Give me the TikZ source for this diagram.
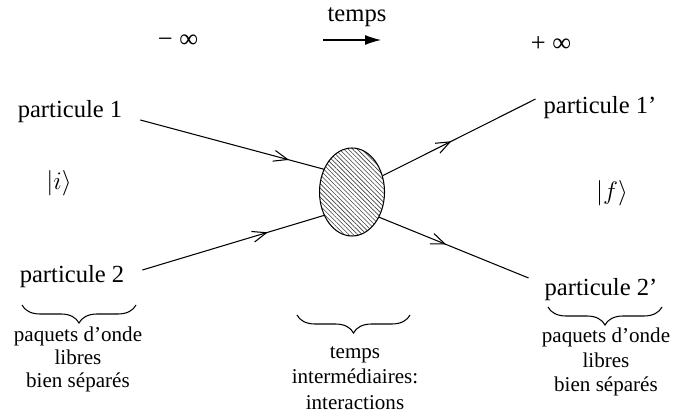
\documentclass[tikz,border=0pt]{standalone}
\usepackage{fontspec}
\setmainfont{Liberation Serif}
\usetikzlibrary{arrows.meta,decorations.markings,decorations.pathreplacing,patterns.meta,shapes.geometric}
\tikzset{
  lbl/.style={font=\fontsize{14}{15}\selectfont, inner sep=1pt},
  inf/.style={font=\fontsize{15}{16}\selectfont, inner sep=1pt},
  txt/.style={font=\fontsize{12}{#1}\selectfont, align=center, inner sep=0pt},
  leg/.style={line width=0.6pt, postaction={decorate},
    decoration={markings, mark=at position #1 with
      {\arrow{Straight Barb[length=2.8mm,width=2.2mm,line width=0.6pt]}}}},
  blob/.style={ellipse, draw, line width=0.6pt, minimum width=1.3cm, minimum height=1.76cm,
    pattern={Lines[angle=-45,distance=1.8pt,line width=0.35pt]}, pattern color=black!75},
  accolade/.style={decorate, decoration={brace, mirror, amplitude=0.36cm}, line width=0.6pt},
}

\begin{document}
\begin{tikzpicture}[x=0.02cm, y=-0.02cm]
\useasboundingbox (0,0) rectangle (675,418);

%% == time axis ===============================================================
\node[inf] (minf)  at (178,41) {− ∞};
\node[lbl] (temps) at (357,17) {temps};
\node[inf] (pinf)  at (551,44) {+ ∞};
\coordinate (tA) at (323,40);
\coordinate (tB) at (381,40);
\draw[line width=0.6pt, -{Latex[length=3.2mm,width=2mm]}] (tA) -- (tB);

%% == particles ===============================================================
\node[lbl] (p1)  at (70,112)  {particule 1};
\node[lbl] (p2)  at (72,277)  {particule 2};
\node[lbl] (p1p) at (600,108) {particule 1'};
\node[lbl] (p2p) at (601,290) {particule 2'};
\node[lbl] (ki)  at (59,183)  {$\Bigl|i\Bigr\rangle$};
\node[lbl] (kf)  at (612,193) {$\Bigl|f\Bigr\rangle$};

% interaction region
\node[blob] (vertex) at (352,192) {};

% incoming / outgoing legs
\draw[leg=0.81] ([shift={(16,8)}]p1.east) -- (vertex.141);
\draw[leg=0.69] ([shift={(16,-7)}]p2.east) -- (vertex.220);
\draw[leg=0.45] (vertex.28)  -- ([shift={(-6,-9)}]p1p.west);
\draw[leg=0.45] (vertex.317) -- ([shift={(-14,-12)}]p2p.west);

%% == braces ==================================================================
\draw[accolade] (22,305)  -- (136,305);
\draw[accolade] (297,315) -- (410,315);
\draw[accolade] (548,307) -- (662,307);

\node[txt=13.1pt] (avant)  at (78,359)  {paquets d'onde\\libres\\bien séparés};
\node[txt=14.5pt] (milieu) at (355,378) {temps\\intermédiaires:\\interactions};
\node[txt=13.8pt] (apres)  at (606,362) {paquets d'onde\\libres\\bien séparés};
\end{tikzpicture}
\end{document}
